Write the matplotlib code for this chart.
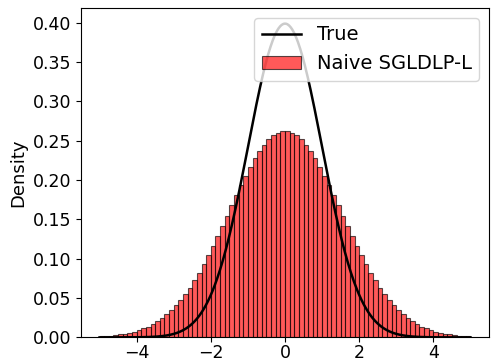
import numpy as np
import matplotlib
matplotlib.use('Agg')
import matplotlib.pyplot as plt

# histogram bins (width 0.125, from -5 to 5)
bin_edges = np.linspace(-5, 5, 81)
half = [0.2623, 0.2605, 0.2570, 0.2518, 0.2451, 0.2370, 0.2276, 0.2170,
        0.2056, 0.1935, 0.1808, 0.1678, 0.1548, 0.1417, 0.1289, 0.1165,
        0.1045, 0.0932, 0.0825, 0.0726, 0.0634, 0.0550, 0.0474, 0.0406,
        0.0345, 0.0291, 0.0244, 0.0203, 0.0168, 0.0138, 0.0113, 0.0092,
        0.0074, 0.0059, 0.0047, 0.0037, 0.0029, 0.0023, 0.0017, 0.0013]
densities = half[::-1] + half

# true density curve: standard normal
xs = np.linspace(-5, 5, 500)
true_pdf = np.exp(-xs**2 / 2) / np.sqrt(2 * np.pi)

fig = plt.figure(figsize=(4.91, 3.62), dpi=100)
ax = fig.add_axes([0.165, 0.068, 0.831, 0.910])

ax.plot(xs, true_pdf, color='black', lw=1.8, label='True')
ax.bar(bin_edges[:-1], densities, width=np.diff(bin_edges), align='edge',
       color='red', alpha=0.65, edgecolor='black', linewidth=0.8,
       label='Naive SGLDLP-L')

ax.set_ylabel('Density', fontsize=13)
ax.tick_params(labelsize=12.5)
ax.tick_params(axis='x', pad=1.5)
ax.set_xticks([-4, -2, 0, 2, 4])
ax.set_yticks(np.arange(0, 0.41, 0.05))
ax.yaxis.set_major_formatter(matplotlib.ticker.FormatStrFormatter('%.2f'))
ax.legend(loc='upper right', fontsize=14)

fig.savefig('out.png', dpi=100)
